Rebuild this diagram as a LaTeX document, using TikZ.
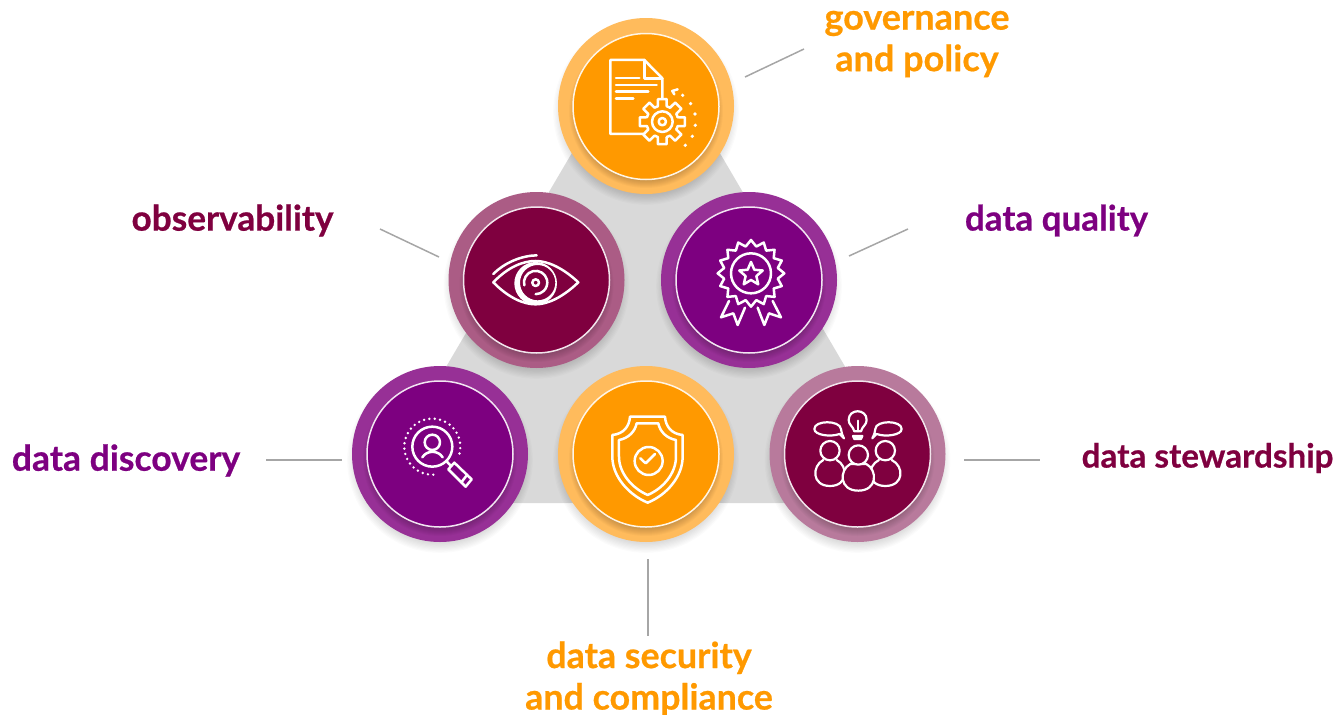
\documentclass[tikz,border=0pt]{standalone}
\usepackage{fontspec}
\setmainfont{Lato}[BoldFeatures={FakeBold=0.6}]
\usetikzlibrary{calc}
\definecolor{org}{HTML}{FF9900}\definecolor{orgl}{HTML}{FFBB5C}
\definecolor{mar}{HTML}{7F003F}\definecolor{marl}{HTML}{AB5C85}\definecolor{marm}{HTML}{B87A9C}
\definecolor{pur}{HTML}{7D0080}\definecolor{purl}{HTML}{973096}
\definecolor{tri}{HTML}{D9D9D9}\definecolor{lin}{HTML}{A6A6A6}
\tikzset{
 outerdisc/.style={circle,minimum size=176pt,inner sep=0pt,fill=#1},
 innerdisc/.style={circle,minimum size=146pt,inner sep=0pt,fill=#1,draw=white!90!#1,line width=1.5pt},
 leader/.style={draw=lin,line width=1.5pt},
 lab/.style 2 args={text=#1,font=\fontsize{#2}{41.5}\selectfont\bfseries,align=center,inner sep=0pt},
 ico/.style={draw=white,line width=2.5pt,line join=round,line cap=round},
 zoomed/.style={x=0.3333pt,y=-0.3333pt},
}
\newcommand{\softshadow}[5]{% x y radius spread opacity
 \foreach \i in {1,...,10}{
  \fill[black,opacity=#5] (#1,#2) circle[radius=#3+#4-#4*\i/5];
 }}
\begin{document}
\begin{tikzpicture}[x=1pt,y=-1pt]
\useasboundingbox (0,0) rectangle (1339,715);
\fill[tri] (646,27) -- (925,503) -- (366,503) -- cycle;
% soft shadows below discs
\softshadow{646}{112}{88}{6}{0.014}
\softshadow{536.5}{286}{88}{6}{0.014}
\softshadow{749}{286}{88}{6}{0.014}
\softshadow{440}{460}{88}{6}{0.014}
\softshadow{646}{460}{88}{6}{0.014}
\softshadow{857.5}{460}{88}{6}{0.014}
% discs
\node[outerdisc=orgl] (govO) at (646,106) {};
\node[outerdisc=marl] (obsO) at (536.5,280) {};
\node[outerdisc=purl] (quaO) at (749,280) {};
\node[outerdisc=purl] (disO) at (440,454) {};
\node[outerdisc=orgl] (secO) at (646,454) {};
\node[outerdisc=marm] (steO) at (857.5,454) {};
\softshadow{646}{111}{73}{5}{0.022}
\softshadow{536.5}{285}{73}{5}{0.022}
\softshadow{749}{285}{73}{5}{0.022}
\softshadow{440}{459}{73}{5}{0.022}
\softshadow{646}{459}{73}{5}{0.022}
\softshadow{857.5}{459}{73}{5}{0.022}
\node[innerdisc=org] (gov) at (646,106.5) {};
\node[innerdisc=mar] (obs) at (536.5,280) {};
\node[innerdisc=pur] (qua) at (749,280) {};
\node[innerdisc=pur] (dis) at (440,454) {};
\node[innerdisc=org] (sec) at (646,454) {};
\node[innerdisc=mar] (ste) at (857.5,454) {};
% document + gear icon
\begin{scope}[shift={(550,10)},zoomed]
 \draw[ico,line cap=butt] (283,372) -- (181,372) -- (181,150) -- (283,150) -- (337,205) -- (337,265);
 \draw[ico] (283,150) -- (283,205) -- (337,205);
 \draw[ico] (198,204) -- (268,204) (198,225) -- (320,225) (198,245) -- (295,245) (198,266) -- (250,266);
 \begin{scope}[shift={(337,335)}]
  \foreach \a in {0,45,...,315}{
   \draw[ico] (\a-16:48) -- (\a-11:69) -- (\a+11:69) -- (\a+16:48) -- (\a+29:48);
  }
  \draw[ico] (0,0) circle[radius=31];
  \draw[ico] (0,0) circle[radius=11];
 \end{scope}
 \foreach \p in {(398,256),(422,281),(435,312),(436,346),(427,379),(406,406)}{
  \fill[white] \p circle[radius=5.5];
 }
 \draw[ico] (383,238) -- (367,243) -- (373,253);
\end{scope}
% eye icon
\begin{scope}[shift={(440,185)},zoomed]
 \draw[ico] (160,292) .. controls (205,245) and (250,228) .. (287,228) .. controls (325,228) and (370,250) .. (415,292) .. controls (370,335) and (325,358) .. (287,358) .. controls (250,358) and (205,338) .. (160,292) -- cycle;
 \draw[ico] (160,267) .. controls (195,232) and (245,212) .. (290,211);
 \fill[white,even odd rule] (287,295) circle[radius=64] (293,293) circle[radius=53];
 \draw[ico] (253,301) arc[start angle=166,end angle=450,radius=35];
 \draw[ico] (287,293) circle[radius=10];
\end{scope}
% badge icon
\begin{scope}[shift={(655,185)},zoomed]
 \draw[ico] (288,265) ++(-90:100)
  \foreach \k in {0,...,15}{ -- ($(288,265)+(-90+\k*22.5+11.25:82)$) -- ($(288,265)+(-90+\k*22.5+22.5:100)$) } -- cycle;
 \draw[ico] (288,265) circle[radius=60];
 \draw[ico] (288,268) ++(-90:37)
  \foreach \k in {0,...,4}{ -- ($(288,268)+(-90+\k*72+36:17)$) -- ($(288,268)+(-90+\k*72+72:37)$) } -- cycle;
 \draw[ico] (222,348) -- (198,397) -- (235,385) -- (248,420) -- (270,368);
 \draw[ico] (353,348) -- (378,397) -- (342,385) -- (328,420) -- (308,368);
\end{scope}
% magnifier icon
\begin{scope}[shift={(345,360)},zoomed]
 \draw[ico] (262,260) circle[radius=60];
 \draw[ico] (262,247) circle[radius=23];
 \draw[ico] (232,292) .. controls (245,270) and (280,270) .. (293,292);
 \foreach \a in {14,3,...,-282}{
  \fill[white] (262,260) ++(\a:84) circle[radius=4];
 }
 \draw[ico] (304,303) -- (318,318);
 \draw[ico] (328,308) -- (380,358) -- (362,380) -- (310,328) -- cycle;
 \draw[ico] (367,344) -- (349,367);
\end{scope}
% shield icon
\begin{scope}[shift={(555,360)},zoomed]
 \draw[ico,line cap=butt] (225,170) -- (330,170) .. controls (332,200) and (350,222) .. (383,225) -- (383,290) .. controls (383,350) and (335,405) .. (278,428) .. controls (222,405) and (172,350) .. (172,290) -- (172,225) .. controls (205,222) and (223,200) .. (225,170) -- cycle;
 \draw[ico] (245,190) -- (310,190) .. controls (315,215) and (335,235) .. (363,240) -- (363,290) .. controls (363,340) and (325,385) .. (278,405) .. controls (232,385) and (192,340) .. (192,290) -- (192,240) .. controls (220,235) and (240,215) .. (245,190) -- cycle;
 \draw[ico] (281,303) circle[radius=42];
 \draw[ico] (256,295) -- (272,310) -- (300,282);
\end{scope}
% team icon
\begin{scope}[shift={(765,360)},zoomed]
 \draw[ico,line width=2.2pt] (268,214) .. controls (264,198) and (251,195) .. (251,180) .. controls (251,145) and (305,145) .. (305,180) .. controls (305,195) and (292,198) .. (288,214) -- cycle;
 \draw[ico,line width=2.2pt] (278,182) -- (278,214);
 \draw[ico,line width=2.2pt,fill=white] (264,228) -- (292,228) -- (288,237) -- (268,237) -- cycle;
 \draw[ico,line width=2.2pt] (237,235) -- (224,222) .. controls (195,232) and (148,225) .. (148,207) .. controls (148,180) and (225,180) .. (228,207) .. controls (228,215) and (232,225) .. (237,235);
 \draw[ico,line width=2.2pt] (322,235) -- (335,222) .. controls (362,232) and (410,225) .. (410,207) .. controls (410,180) and (332,180) .. (331,207) .. controls (331,215) and (327,225) .. (322,235);
 \draw[ico,line width=2.2pt] (175,300) .. controls (140,318) and (140,378) .. (195,378) .. controls (250,378) and (250,318) .. (215,300);
 \draw[ico,line width=2.2pt] (342,300) .. controls (305,318) and (305,378) .. (361,378) .. controls (418,378) and (418,318) .. (380,300);
 \draw[ico,line width=2.2pt] (195,272) circle[radius=29];
 \draw[ico,line width=2.2pt] (361,272) circle[radius=29];
 \draw[ico,line width=2.2pt,fill=mar] (256,312) .. controls (222,330) and (222,392) .. (280,392) .. controls (338,392) and (338,330) .. (304,312) -- cycle;
 \draw[ico,line width=2.2pt,fill=mar] (280,285) circle[radius=29];
\end{scope}
% leader lines
\coordinate (a1) at (745,77); \coordinate (a2) at (804,49);
\coordinate (b1) at (380,229); \coordinate (b2) at (439,257);
\coordinate (c1) at (849,256); \coordinate (c2) at (908,229);
\coordinate (d1) at (266,460); \coordinate (d2) at (342,460);
\coordinate (e1) at (964,460); \coordinate (e2) at (1040,460);
\coordinate (f1) at (648,559); \coordinate (f2) at (648,636);
\path[leader] (a1) -- (a2);
\path[leader] (b1) -- (b2);
\path[leader] (c1) -- (c2);
\path[leader] (d1) -- (d2);
\path[leader] (e1) -- (e2);
\path[leader] (f1) -- (f2);
% labels
\node[lab={org}{36}] (lgov) at (917,44) {governance\\and policy};
\node[lab={mar}{35.2}] (lobs) at (232.5,220.5) {observability};
\node[lab={pur}{35}] (lqua) at (1056.5,220.5) {data quality};
\node[lab={pur}{35.5}] (ldis) at (126,460.5) {data discovery};
\node[lab={mar}{33.2}] (lste) at (1207.5,458) {data stewardship};
\node[lab={org}{35.8}] (lsec) at (649,678.5) {data security\\and compliance};
\end{tikzpicture}
\end{document}
